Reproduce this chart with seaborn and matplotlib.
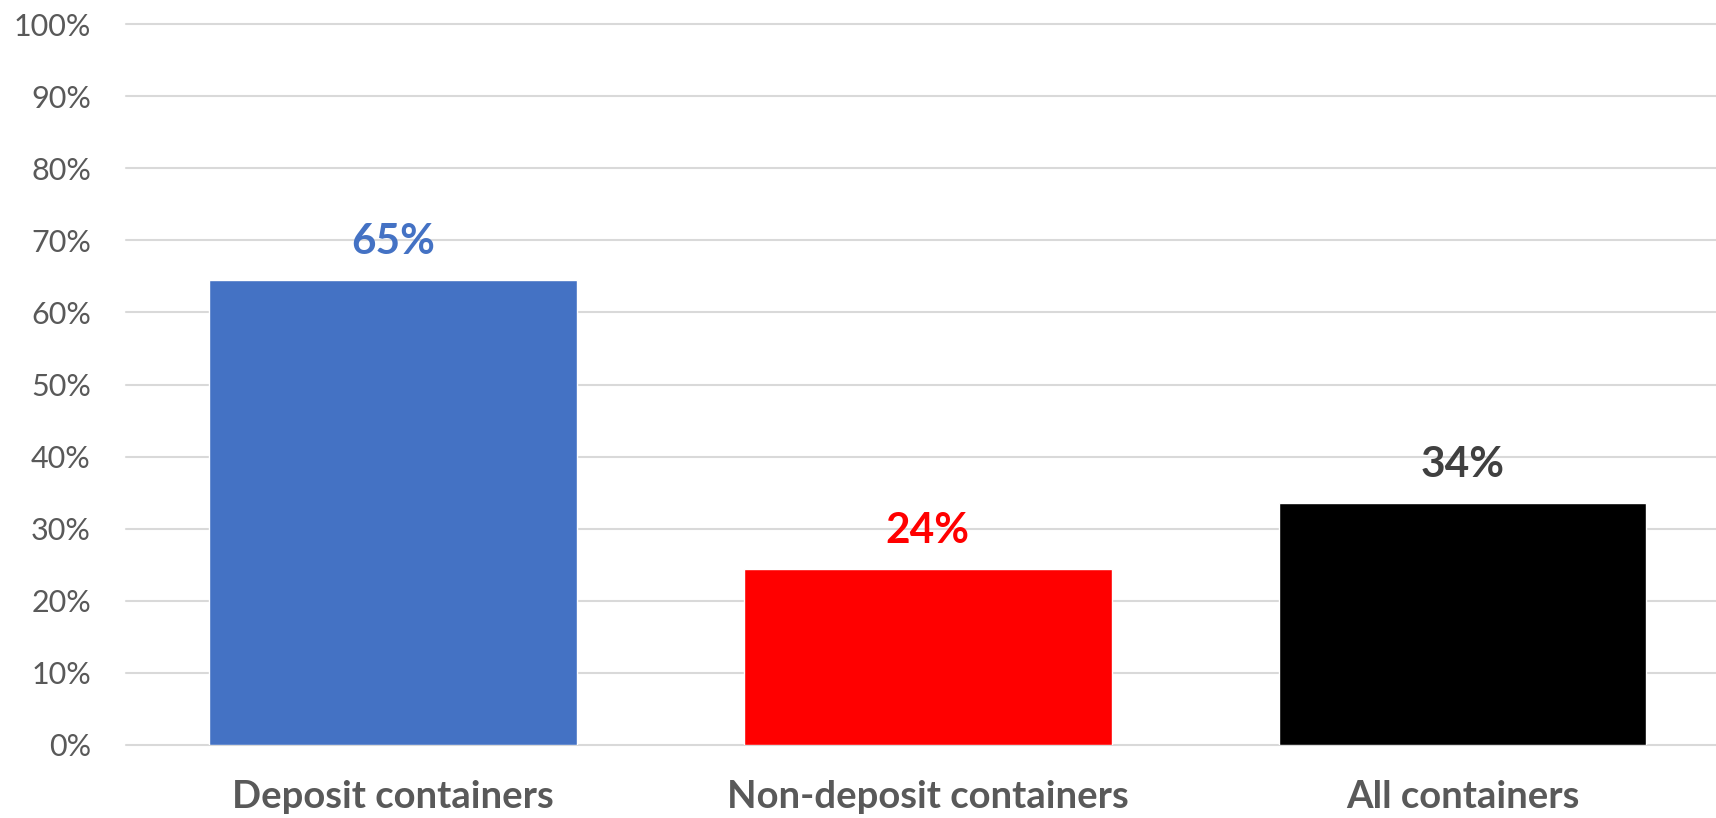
import matplotlib
matplotlib.use("Agg")
import matplotlib.pyplot as plt
from matplotlib.ticker import PercentFormatter
import seaborn as sns
import pandas as pd

categories = ["Deposit containers", "Non-deposit containers", "All containers"]
values = [0.645, 0.244, 0.335]
value_labels = ["65%", "24%", "34%"]
bar_colors = ["#4472C4", "#FF0000", "#000000"]
label_colors = ["#4472C4", "#FF0000", "#404040"]

sns.set_theme(style="white")
plt.rcParams["font.family"] = ["Lato", "DejaVu Sans"]

W, H = 1716, 818
fig = plt.figure(figsize=(W / 100, H / 100), dpi=100)
left_px, right_px, top_px, bottom_px = 125.6, 1716, 24, 745
ax = fig.add_axes([left_px / W, (H - bottom_px) / H,
                   (right_px - left_px) / W, (bottom_px - top_px) / H])

df = pd.DataFrame({"category": categories, "value": values})
sns.barplot(data=df, x="category", y="value", hue="category",
            palette=bar_colors, width=0.688, legend=False,
            saturation=1, ax=ax, zorder=3)

ax.set_xlim(-0.5, -0.5 + (right_px - left_px) / 534.75)
ax.set_ylim(0, 1.0)
ax.set_yticks([i / 10 for i in range(11)])
ax.yaxis.set_major_formatter(PercentFormatter(1.0, decimals=0))
ax.grid(axis="y", color="#D9D9D9", linewidth=1.5, zorder=0)
ax.grid(axis="x", visible=False)
for gl in ax.get_ygridlines():
    gl.set_clip_on(False)
for s in ax.spines.values():
    s.set_visible(False)
ax.set_xlabel("")
ax.set_ylabel("")
ax.tick_params(axis="y", length=0, pad=25, labelsize=22, labelcolor="#595959")
ax.tick_params(axis="x", length=0, pad=25, labelsize=27.5, labelcolor="#595959")
for t in ax.get_xticklabels():
    t.set_fontweight("bold")

for patch, lab, col in zip(ax.patches, value_labels, label_colors):
    x = patch.get_x() + patch.get_width() / 2
    y = patch.get_height()
    ax.annotate(lab, (x, y), xytext=(0, 19), textcoords="offset points",
                ha="center", va="baseline", fontsize=30.5, fontweight="bold",
                color=col)

fig.savefig("out.png", dpi=100)
